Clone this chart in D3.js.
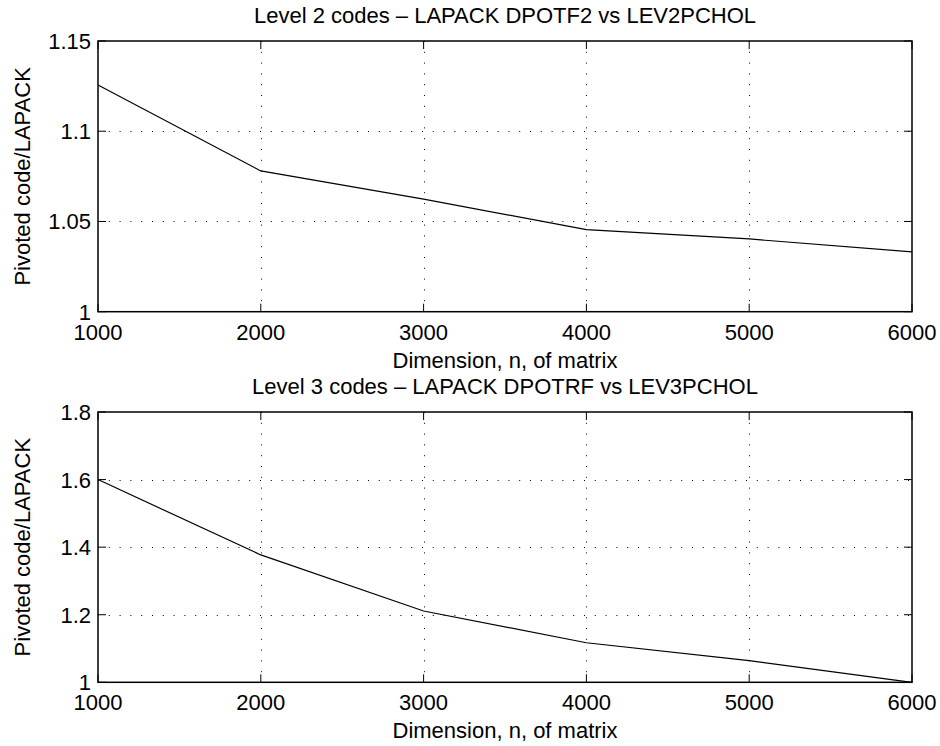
<!DOCTYPE html>
<html>
<head>
<meta charset="utf-8">
<script src="https://cdn.jsdelivr.net/npm/d3@7"></script>
<style>
  body { margin: 0; background: #fff; }
  svg { display: block; }
  text { font-family: "Liberation Sans", Arial, Helvetica, sans-serif; fill: #000; }
</style>
</head>
<body>
<div id="app"></div>
<script>
'use strict'
// matrix sizes shared by both panels
const dims = [1000, 2000, 3000, 4000, 5000, 6000]
const xTicks = [1000, 2000, 3000, 4000, 5000, 6000]

// level 2 panel
const lev2Ratio = [1.1256, 1.078, 1.0624, 1.0455, 1.0403, 1.0332]
const lev2Ticks = [1, 1.05, 1.1, 1.15]
const lev2Title = 'Level 2 codes \u2013 LAPACK DPOTF2 vs LEV2PCHOL'

// level 3 panel
const lev3Ratio = [1.6, 1.377, 1.211, 1.117, 1.064, 1.0]
const lev3Ticks = [1, 1.2, 1.4, 1.6, 1.8]
const lev3Title = 'Level 3 codes \u2013 LAPACK DPOTRF vs LEV3PCHOL'

const W = 940
const H = 746
const left = 98
const right = 912
const fs = 22

const svg = d3.select('#app').append('svg')
  .attr('width', W)
  .attr('height', H)

function panel(top, bottom, values, yTicks, title) {
  const x = d3.scaleLinear().domain([1000, 6000]).range([left, right])
  const y = d3.scaleLinear().domain([yTicks[0], yTicks[yTicks.length - 1]]).range([bottom, top])
  const g = svg.append('g')

  // dotted grid
  g.selectAll('.gx').data(xTicks.slice(1, -1)).enter().append('line')
    .attr('x1', d => Math.round(x(d)) + 0.5).attr('x2', d => Math.round(x(d)) + 0.5)
    .attr('y1', top).attr('y2', bottom)
    .attr('stroke', '#000').attr('stroke-width', 1).attr('stroke-dasharray', '1 9.8')
  g.selectAll('.gy').data(yTicks.slice(1, -1)).enter().append('line')
    .attr('x1', left).attr('x2', right)
    .attr('y1', d => Math.round(y(d)) + 0.5).attr('y2', d => Math.round(y(d)) + 0.5)
    .attr('stroke', '#000').attr('stroke-width', 1).attr('stroke-dasharray', '1 9.8')

  // inside ticks on all four sides
  const tl = 8
  xTicks.forEach(d => {
    g.append('line').attr('x1', x(d)).attr('x2', x(d)).attr('y1', bottom).attr('y2', bottom - tl)
      .attr('stroke', '#000')
    g.append('line').attr('x1', x(d)).attr('x2', x(d)).attr('y1', top).attr('y2', top + tl)
      .attr('stroke', '#000')
  })
  yTicks.forEach(d => {
    g.append('line').attr('x1', left).attr('x2', left + tl).attr('y1', y(d)).attr('y2', y(d))
      .attr('stroke', '#000')
    g.append('line').attr('x1', right).attr('x2', right - tl).attr('y1', y(d)).attr('y2', y(d))
      .attr('stroke', '#000')
  })

  // data line
  const line = d3.line().x((d, i) => x(dims[i])).y(d => y(d))
  g.append('path').datum(values)
    .attr('d', line)
    .attr('fill', 'none')
    .attr('stroke', '#000')
    .attr('stroke-width', 1.2)

  // box
  g.append('rect')
    .attr('x', left).attr('y', top)
    .attr('width', right - left).attr('height', bottom - top)
    .attr('fill', 'none').attr('stroke', '#000').attr('stroke-width', 1.5)

  // tick labels
  g.selectAll('.xl').data(xTicks).enter().append('text')
    .attr('x', d => x(d)).attr('y', bottom + 28)
    .attr('text-anchor', 'middle').attr('font-size', fs)
    .text(d => d)
  g.selectAll('.yl').data(yTicks).enter().append('text')
    .attr('x', left - 7).attr('y', d => y(d) + 8)
    .attr('text-anchor', 'end').attr('font-size', fs)
    .text(d => d3.format('~g')(d))

  // labels
  g.append('text')
    .attr('x', (left + right) / 2).attr('y', bottom + 56)
    .attr('text-anchor', 'middle').attr('font-size', fs)
    .text('Dimension, n, of matrix')
  g.append('text')
    .attr('transform', `translate(30, ${(top + bottom) / 2}) rotate(-90)`)
    .attr('text-anchor', 'middle').attr('font-size', fs)
    .text('Pivoted code/LAPACK')
  g.append('text')
    .attr('x', (left + right) / 2).attr('y', top - 18)
    .attr('text-anchor', 'middle').attr('font-size', fs)
    .text(title)
}

panel(41, 311.7, lev2Ratio, lev2Ticks, lev2Title)
panel(412, 682.3, lev3Ratio, lev3Ticks, lev3Title)
</script>
</body>
</html>
